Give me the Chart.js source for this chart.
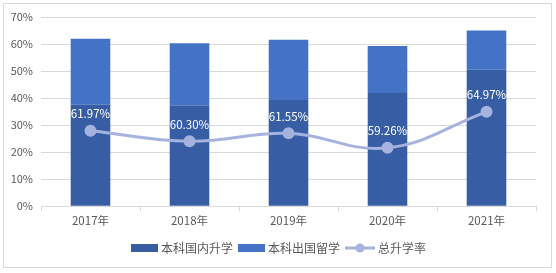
<!DOCTYPE html>
<html lang="zh-CN">
<head>
<meta charset="UTF-8" />
<title>升学率</title>
<script src="https://cdn.jsdelivr.net/npm/chart.js"></script>
<style>
  html, body { margin: 0; padding: 0; background: #fff; }
  #wrap { width: 556px; height: 273px; position: relative; }
</style>
</head>
<body>
<div id="wrap"><canvas id="myChart"></canvas></div>
<script>
  // dados
  const anos = ["2017年", "2018年", "2019年", "2020年", "2021年"];
  const domestico = [37.5, 37.2, 39.3, 41.9, 50.5];      // 本科国内升学 (%)
  const exterior = [24.47, 23.1, 22.25, 17.36, 14.47];   // 本科出国留学 (%)
  const totalTaxa = [61.97, 60.30, 61.55, 59.26, 64.97]; // 总升学率 (%)
  const yTicks = [0, 10, 20, 30, 40, 50, 60, 70];

  const FONT = "'Noto Sans CJK SC', 'Noto Sans', sans-serif";
  const corEscura = "#375EA5";
  const corClara = "#4472C4";
  const corLinha = "#A5B3DE";

  // moldura cinza ao redor do grafico
  const moldura = {
    id: "moldura",
    beforeDraw(chart) {
      const c = chart.ctx;
      c.save();
      c.fillStyle = "#fff";
      c.fillRect(0, 0, chart.width, chart.height);
      c.strokeStyle = "#D9D9D9";
      c.lineWidth = 1;
      c.strokeRect(3.5, 3.5, 548, 264);
      c.restore();
    },
  };

  // rotulos brancos acima dos pontos da linha
  const rotulos = {
    id: "rotulos",
    afterDatasetsDraw(chart) {
      const meta = chart.getDatasetMeta(2);
      const c = chart.ctx;
      c.save();
      c.font = "11.5px " + FONT;
      c.fillStyle = "#fff";
      c.textAlign = "center";
      c.textBaseline = "middle";
      meta.data.forEach((p, i) => {
        c.fillText(totalTaxa[i].toFixed(2) + "%", p.x, p.y - 17);
      });
      c.restore();
    },
  };

  // legenda desenhada na mao (linha com ponto)
  const legenda = {
    id: "legenda",
    afterDraw(chart) {
      const c = chart.ctx;
      const y = 248;
      c.save();
      c.font = "12px " + FONT;
      c.textBaseline = "middle";
      const ds = chart.data.datasets;
      let x = 131;
      for (let i = 0; i < 2; i++) {
        c.fillStyle = ds[i].backgroundColor;
        c.fillRect(x, y - 4, 27, 8);
        c.fillStyle = "#595959";
        c.fillText(ds[i].label, x + 30, y);
        x += 30 + c.measureText(ds[i].label).width + 5;
      }
      c.strokeStyle = corLinha;
      c.lineWidth = 3;
      c.beginPath();
      c.moveTo(x, y);
      c.lineTo(x + 30, y);
      c.stroke();
      c.fillStyle = corLinha;
      c.beginPath();
      c.arc(x + 15, y, 4.5, 0, Math.PI * 2);
      c.fill();
      c.fillStyle = "#595959";
      c.fillText(ds[2].label, x + 33, y);
      c.restore();
    },
  };

  const ctx = document.getElementById("myChart").getContext("2d");

  new Chart(ctx, {
    data: {
      labels: anos,
      datasets: [
        {
          type: "bar",
          label: "本科国内升学",
          data: domestico,
          backgroundColor: corEscura,
          stack: "s",
          barPercentage: 0.8,
          categoryPercentage: 0.5,
          order: 1,
        },
        {
          type: "bar",
          label: "本科出国留学",
          data: exterior,
          backgroundColor: corClara,
          stack: "s",
          barPercentage: 0.8,
          categoryPercentage: 0.5,
          order: 1,
        },
        {
          type: "line",
          label: "总升学率",
          data: totalTaxa,
          yAxisID: "y1",
          borderColor: corLinha,
          backgroundColor: corLinha,
          borderWidth: 3,
          pointRadius: 4.5,
          pointHoverRadius: 4.5,
          tension: 0.4,
          order: 0,
        },
      ],
    },
    options: {
      responsive: true,
      maintainAspectRatio: false,
      animation: false,
      layout: { padding: { top: 17, right: 20, bottom: 42, left: 0 } },
      plugins: {
        legend: { display: false },
        tooltip: { enabled: false },
      },
      scales: {
        x: {
          stacked: true,
          offset: true,
          grid: {
            drawOnChartArea: false,
            drawTicks: true,
            tickLength: 5,
            color: "#D9D9D9",
            offset: true,
          },
          border: { color: "#D9D9D9" },
          ticks: {
            color: "#595959",
            font: { family: FONT, size: 11.5 },
            padding: 3,
          },
        },
        y: {
          stacked: true,
          min: 0,
          max: 70,
          afterBuildTicks(scale) {
            scale.ticks = yTicks.map((v) => ({ value: v }));
          },
          afterFit(scale) {
            scale.width = 41;
          },
          grid: { color: "#D9D9D9", drawTicks: false },
          border: { display: false },
          ticks: {
            color: "#595959",
            font: { family: FONT, size: 11 },
            padding: 8,
            callback: (v) => v + "%",
          },
        },
        y1: {
          display: false,
          min: 50,
          max: 80,
        },
      },
    },
    plugins: [moldura, rotulos, legenda],
  });
</script>
</body>
</html>
